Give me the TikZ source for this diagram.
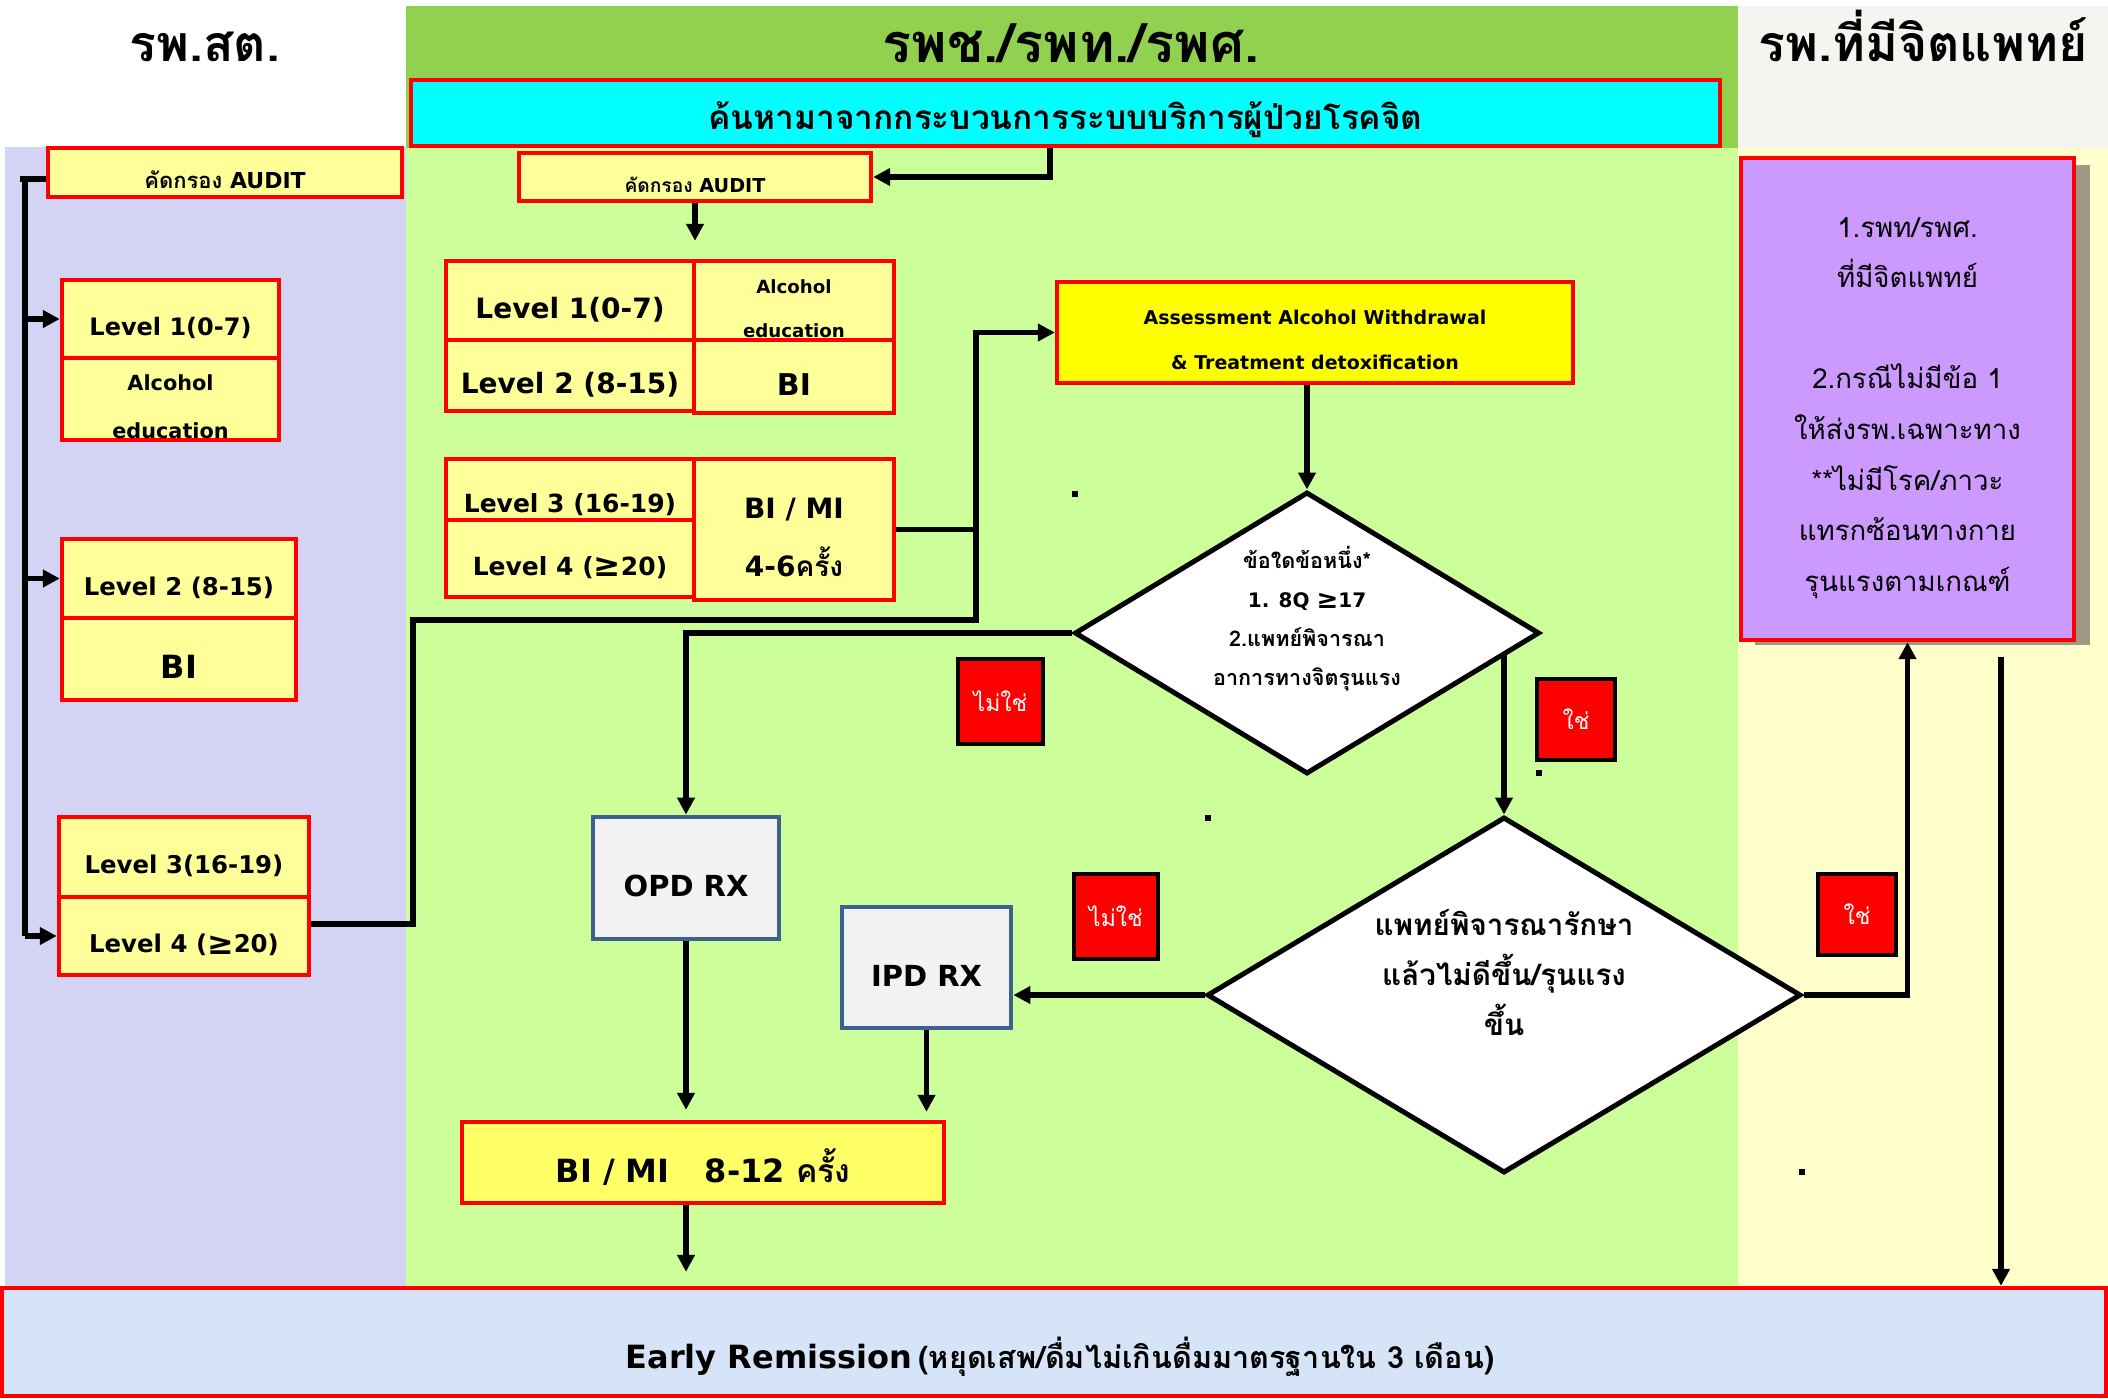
\documentclass[tikz,border=0pt]{standalone}
\usepackage{fontspec}
\usepackage{graphicx}
\setmainfont{DejaVu Sans}
\newfontfamily\thai[Script=Thai]{Loma}
\usetikzlibrary{shapes.geometric,arrows.meta}
\pgfdeclarelayer{back}
\pgfdeclarelayer{lines}
\pgfsetlayers{back,lines,main}
\definecolor{lav}{RGB}{211,211,244}
\definecolor{lgreen}{RGB}{204,255,153}
\definecolor{hgreen}{RGB}{146,208,80}
\definecolor{lyellow}{RGB}{255,255,204}
\definecolor{hgray}{RGB}{245,244,240}
\definecolor{pyel}{RGB}{255,255,153}
\definecolor{byel}{RGB}{255,255,0}
\definecolor{myel}{RGB}{255,255,102}
\definecolor{bred}{RGB}{255,0,0}
\definecolor{purp}{RGB}{204,153,255}
\definecolor{shad}{RGB}{156,154,128}
\definecolor{erblue}{RGB}{214,228,248}
\definecolor{rxfill}{RGB}{242,242,242}
\definecolor{rxedge}{RGB}{61,96,145}
\definecolor{cyanbox}{RGB}{0,255,255}
\newcommand{\fsz}[2]{\fontsize{#1}{#2}\selectfont}
\newcommand{\gesym}{\raisebox{-0.05em}{\scalebox{1.3}{≥}}}
\tikzset{
  bx/.style n args={4}{at={({(#1+#3)/2},{(#2+#4)/2})},
     minimum width={(#3-#1)*0.5pt}, minimum height={(#4-#2)*0.5pt}},
  lt/.style 2 args={font=\fsz{#1}{#2}\bfseries, text height={0.73*#1pt+8pt}, text depth=0pt},
  tt/.style 2 args={font=\fsz{#1}{#2}\bfseries\thai, text height={0.52*#1pt+8pt}, text depth=0pt},
  hdr/.style={inner sep=0pt, font=\fsz{#1}{30}\bfseries\thai, text height={0.52*#1pt}, text depth=0pt},
  ybox/.style={draw=bred, line width=2.2pt, fill=pyel, inner sep=0pt, align=center},
  cbox/.style={draw=bred, line width=2.2pt, fill=cyanbox, inner sep=0pt},
  abox/.style={draw=bred, line width=2.2pt, fill=byel, inner sep=0pt, align=center},
  mbox/.style={draw=bred, line width=2.2pt, fill=myel, inner sep=0pt},
  pbox/.style={draw=bred, line width=2.2pt, fill=purp, inner sep=0pt, align=center},
  erbox/.style={draw=bred, line width=2.2pt, fill=erblue, inner sep=0pt},
  rxbox/.style={draw=rxedge, line width=2.4pt, fill=rxfill, inner sep=0pt},
  nobox/.style={draw=black, line width=2pt, fill=bred, text=white, inner sep=0pt,
     font=\fsz{11.5}{13}\thai, text height={0.52*11.5pt+4pt}, text depth=0pt},
  dia/.style={diamond, draw=black, line width=2.5pt, fill=white, inner sep=0pt},
  dtext/.style={inner sep=0pt, align=center, text depth=0pt},
  conn/.style={draw=black, line width=2.7pt},
  arr/.style={conn, -{Triangle[length=8.5pt,width=8.5pt]}},
  dot/.style={fill=black}
}
\begin{document}
\begin{tikzpicture}[x=0.5pt,y=-0.5pt]
\useasboundingbox (0,0) rectangle (2108,1398);
\begin{pgfonlayer}{back}
\fill[white] (0,0) rectangle (2108,1398);
\fill[lav] (5,147) rectangle (406,1287);
\fill[hgreen] (406,6) rectangle (1738,148);
\fill[lgreen] (406,148) rectangle (1738,1287);
\fill[hgray] (1738,6) rectangle (2108,148);
\fill[lyellow] (1738,148) rectangle (2108,1287);
\fill[shad] (1755,165) rectangle (2090,645);
\end{pgfonlayer}

% headers
\node[hdr=25] (h1) at (205,48) {รพ.สต.};
\node[hdr=27] (h2) at (1071,48) {รพช./รพท./รพศ.};
\node[hdr=25] (h3) at (1923,48) {รพ.ที่มีจิตแพทย์};
\node[cbox, bx={411}{80}{1720}{146}, tt={16.7}{20}] (cy) {ค้นหามาจากกระบวนการระบบบริการผู้ป่วยโรคจิต};

% left column
\node[ybox, bx={48}{148}{402}{197}, lt={11}{13}] (la) {{\thai คัดกรอง} AUDIT};
\node[ybox, bx={62}{280}{279}{358}, lt={12}{14}] (l1) {Level 1(0-7)};
\node[ybox, bx={62}{358}{279}{440}, lt={10.4}{24}, text height=39.6pt] (l1e) {Alcohol\\education};
\node[ybox, bx={62}{539}{296}{618}, lt={12.2}{14}] (l2) {Level 2 (8-15)};
\node[ybox, bx={62}{618}{296}{700}, lt={16}{18}] (l2b) {BI};
\node[ybox, bx={59}{817}{309}{897}, lt={12.2}{14}] (l3) {Level 3(16-19)};
\node[ybox, bx={59}{897}{309}{975}, lt={12.2}{14}] (l4) {Level 4 (\gesym20)};

% middle column
\node[ybox, bx={519}{153}{871}{201}, lt={9.6}{12}] (ma) {{\thai คัดกรอง} AUDIT};
\node[ybox, bx={446}{261}{694}{340}, lt={14}{16}] (m1) {Level 1(0-7)};
\node[ybox, bx={694}{261}{894}{340}, lt={9.1}{22}, text height=36.6pt] (m1e) {Alcohol\\education};
\node[ybox, bx={446}{340}{694}{411}, lt={14}{16}] (m2) {Level 2 (8-15)};
\node[ybox, bx={694}{340}{894}{413}, lt={15}{18}] (m2b) {BI};
\node[ybox, bx={446}{459}{694}{520}, lt={12.5}{14}, text height={0.73*12.5pt+14pt}] (m3) {Level 3 (16-19)};
\node[ybox, bx={446}{520}{694}{597}, lt={12.5}{14}] (m4) {Level 4 (\gesym20)};
\node[ybox, bx={694}{459}{894}{600}, lt={14}{29}, text height=47.2pt] (m34) {BI / MI\\4-6{\thai ครั้ง}};

\node[abox, bx={1057}{282}{1573}{383}, lt={9.5}{22.5}, text height=37.4pt] (assess) {Assessment Alcohol Withdrawal\\\& Treatment detoxification};

\node[dia, minimum width=232.5pt, minimum height=141pt] (d1) at (1307,633) {};
\node[dtext, font=\fsz{10.8}{19.5}\bfseries, text height=64.1pt] (d1t) at (1307,621) {{\thai ข้อใดข้อหนึ่ง*}\\{\fontsize{10}{19.5}\selectfont 1. 8Q \gesym17}\\{\thai 2.แพทย์พิจารณา}\\{\thai อาการทางจิตรุนแรง}};

\node[dia, minimum width=297pt, minimum height=178pt] (d2) at (1504,995) {};
\node[dtext, font=\fsz{14.8}{25}\bfseries\thai, text height=57.7pt] (d2t) at (1504,978) {แพทย์พิจารณารักษา\\แล้วไม่ดีขึ้น/รุนแรง\\ขึ้น};

\node[rxbox, bx={593}{817}{779}{939}, lt={14.5}{18}] (opd) {OPD RX};
\node[rxbox, bx={842}{907}{1011}{1028}, lt={14.5}{18}] (ipd) {IPD RX};
\node[mbox, bx={462}{1122}{944}{1203}, lt={16}{18}] (bimi) {BI / MI\hspace{1.1em}8-12 {\thai ครั้ง}};

\node[nobox, bx={958}{659}{1043}{744}] (n1) {ไม่ใช่};
\node[nobox, bx={1074}{874}{1158}{959}] (n2) {ไม่ใช่};
\node[nobox, bx={1537}{679}{1615}{760}] (y1) {ใช่};
\node[nobox, bx={1818}{874}{1896}{955}] (y2) {ใช่};

% right column
\node[pbox, bx={1741}{158}{2074}{640}, font=\fsz{13.8}{25.3}\thai, text height=192.3pt, text depth=0pt] (purple) {1.รพท/รพศ.\\ที่มีจิตแพทย์\\~\\2.กรณีไม่มีข้อ 1\\ให้ส่งรพ.เฉพาะทาง\\{*}{*}ไม่มีโรค/ภาวะ\\แทรกซ้อนทางกาย\\รุนแรงตามเกณฑ์};

% bottom
\node[erbox, bx={2}{1288}{2106}{1396}] (er) {};
\node[inner sep=0pt, text height=11.7pt, text depth=0pt] (ert) at (1060,1357) {{\fsz{16}{20}\bfseries Early Remission} {\fsz{15.3}{18}\bfseries\thai (หยุดเสพ/ดื่มไม่เกินดื่มมาตรฐานใน 3 เดือน)}};

% stray dots
\fill[dot] (1072,491) rectangle (1078,497);
\fill[dot] (1205,815) rectangle (1211,821);
\fill[dot] (1536,770) rectangle (1542,776);
\fill[dot] (1799,1169) rectangle (1805,1175);

\begin{pgfonlayer}{lines}
\coordinate (sp1) at (25,179);
\draw[conn] (sp1) -- (sp1 |- l4.west);
\draw[conn] ([xshift=-2.5pt]sp1) -- (sp1 -| la.west);
\draw[arr] (sp1 |- l1.west) -- (l1.west);
\draw[arr] (sp1 |- l2.west) -- (l2.west);
\draw[arr] (sp1 |- l4.west) -- (l4.west);
\coordinate (j1) at (413,620);
\coordinate (j2) at (976,620);
\draw[arr] ([yshift=6pt]l4.east) -| (j1) -- (j2) |- (assess.west);
\draw[conn] (m34.east) -- (m34.east -| j2);
\coordinate (c1) at (1050,0);
\draw[arr] (c1 |- cy.south) |- (ma.east);
\draw[arr, shorten >=9pt] (ma.south) -- (ma.south |- m1.north);
\draw[arr] (d1.north |- assess.south) -- (d1.north);
\draw[arr] (d1.west) -| (opd.north);
\draw[arr] (d2.north |- d1.center) -- (d2.north);
\draw[arr] (d2.west) -- (d2.west -| ipd.east);
\draw[arr] (d2.east) -| (purple.south);
\draw[arr, shorten >=5pt] (opd.south) -- (opd.south |- bimi.north);
\draw[arr, shorten >=4pt] (ipd.south) -- (ipd.south |- bimi.north);
\draw[arr, shorten >=7pt] (bimi.south -| opd.south) -- (opd.south |- er.north);
\coordinate (rs) at (2001,657);
\draw[arr] (rs) -- (rs |- er.north);
\end{pgfonlayer}
\end{tikzpicture}
\end{document}
